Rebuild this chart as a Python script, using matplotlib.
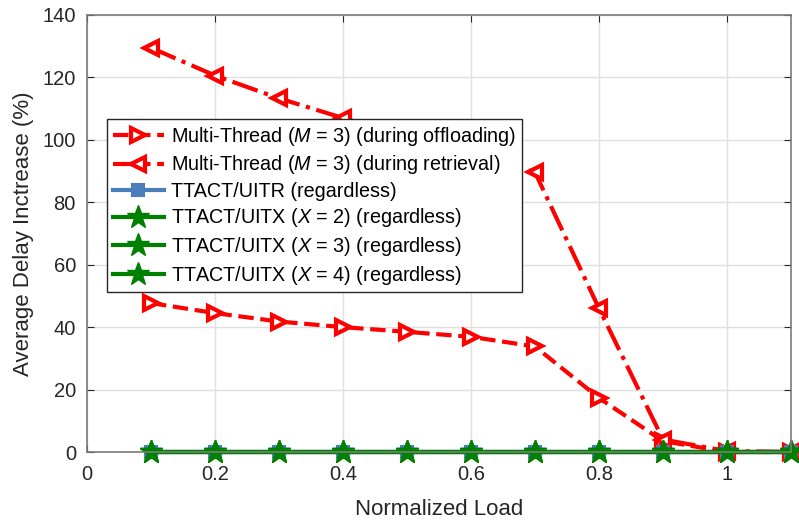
import numpy as np
import matplotlib
matplotlib.use("Agg")
import matplotlib.pyplot as plt

plt.rcParams['font.family'] = ['Liberation Sans', 'DejaVu Sans']
plt.rcParams['mathtext.fontset'] = 'custom'
plt.rcParams['mathtext.it'] = 'Liberation Sans:italic'
plt.rcParams['mathtext.rm'] = 'Liberation Sans'

load = [0.1, 0.2, 0.3, 0.4, 0.5, 0.6, 0.7, 0.8, 0.9, 1.0, 1.1]
offloading = [47.7, 44.5, 41.8, 40.0, 38.5, 36.9, 33.8, 17.3, 3.5, 0.0, 0.0]
retrieval = [129.5, 120.6, 113.3, 107.0, 101.5, 96.0, 89.6, 46.0, 4.0, 0.3, 0.0]
uitr = [0.0] * 11
uitx2 = [0.0] * 11
uitx3 = [0.0] * 11
uitx4 = [0.0] * 11

fig = plt.figure(figsize=(7.99, 5.23), dpi=100)
ax = fig.add_axes([87 / 799, 1 - 452 / 523, 704 / 799, 437 / 523])

ax.plot(load, offloading, '--', color='red', lw=3, marker='>', ms=10, mew=3,
        mfc='white', mec='red', clip_on=False,
        label=r'Multi-Thread ($M$ = 3) (during offloading)')
ax.plot(load, retrieval, '-.', color='red', lw=3, marker='<', ms=10, mew=3,
        mfc='white', mec='red', clip_on=False,
        label=r'Multi-Thread ($M$ = 3) (during retrieval)')
ax.plot(load, uitr, '-', color='#4A7EBB', lw=3, marker='s', ms=8, mew=1.5,
        mfc='#4A7EBB', mec='#4A7EBB', clip_on=False,
        label='TTACT/UITR (regardless)')
for vals, xv in [(uitx2, 2), (uitx3, 3), (uitx4, 4)]:
    ax.plot(load, vals, '-', color='green', lw=3, marker='*', ms=17, mew=1,
            mfc='green', mec='green', clip_on=False,
            label=rf'TTACT/UITX ($X$ = {xv}) (regardless)')

ax.set_xlim(0, 1.1)
ax.set_ylim(0, 140)
ax.set_xticks([0, 0.2, 0.4, 0.6, 0.8, 1])
ax.set_xticklabels(['0', '0.2', '0.4', '0.6', '0.8', '1'])
ax.set_yticks(np.arange(0, 141, 20))
ax.grid(True, color='#e0e0e0', lw=1)
ax.set_axisbelow(True)
ax.tick_params(direction='in', length=5, labelsize=14.5, colors='#262626',
               top=True, right=True)
ax.tick_params(axis='x', pad=9)
ax.tick_params(axis='y', pad=8)
for s in ax.spines.values():
    s.set_color('#7a7a7a')
    s.set_linewidth(1.2)

ax.set_xlabel('Normalized Load', fontsize=16, color='#262626', labelpad=11)
ax.set_ylabel('Average Delay Inctrease (%)', fontsize=16, color='#262626', labelpad=6)

leg = ax.legend(loc='upper left', bbox_to_anchor=(0.028, 0.762), fontsize=14.2,
                frameon=True, fancybox=False, edgecolor='#262626', framealpha=1,
                handlelength=2.6, handletextpad=0.35, borderpad=0.3,
                labelspacing=0.28, borderaxespad=0)
leg.get_frame().set_linewidth(1)

fig.savefig('out.png', dpi=100)
